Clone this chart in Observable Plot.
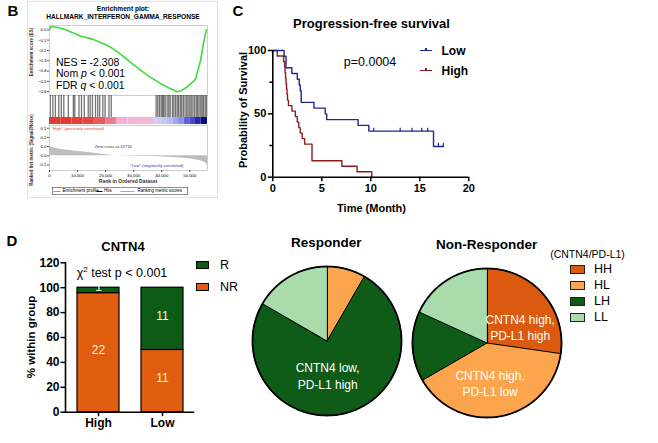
<!DOCTYPE html>
<html><head><meta charset="utf-8">
<script src="https://cdn.jsdelivr.net/npm/d3@7"></script>
<script src="https://cdn.jsdelivr.net/npm/@observablehq/plot@0.6"></script>
<style>
body{margin:0;background:#fff;}
#root{position:relative;width:658px;height:443px;overflow:hidden;font-family:"Liberation Sans",Arial,Helvetica,sans-serif;color:#000;background:#fff;}
.abs{position:absolute;white-space:nowrap;line-height:1;}
</style></head><body><div id="root"></div>
<script>
// ================= DATA =================
// Panel B : GSEA enrichment plot
const gseaTitle = ["Enrichment plot:", "HALLMARK_INTERFERON_GAMMA_RESPONSE"];
const nRanks = 56300;
const esRank  = [0, 600, 1500, 3300, 6200, 9300, 11000, 15200, 20500, 23000, 25500, 30000, 34800, 39500, 43000, 45500, 47000, 49000, 52000, 53800, 55000, 55900];
const esValue = [0, 0.03, 0.03, 0.02, -0.005, -0.04, -0.06, -0.09, -0.15, -0.19, -0.24, -0.34, -0.44, -0.52, -0.57, -0.60, -0.59, -0.555, -0.48, -0.30, -0.11, 0];
const hitRanks = [300, 1200, 2100, 3300, 4200, 5100, 6700, 8500, 9000, 10500, 11400, 12400, 13800, 14500, 15300, 16400, 17200, 17900, 19000, 19800, 21200, 22000,
  38000, 38600, 39200, 39800, 40300, 40700, 41200, 41900, 42500, 43000, 43800, 44300, 44900, 45500, 46000, 46600, 47100, 47700, 48300, 48900, 49400, 50000,
  50500, 51100, 51700, 52300, 52800, 53300, 53900, 54400, 54900, 55500, 56000];
const bandEdges = [0, 4000, 8000, 12000, 16000, 20000, 24000, 28000, 32000, 36000, 38000, 40000, 42000, 44000, 46000, 48000, 50000, 52000, 54000, 56300];
const bandLevel = [1, 1, 0.95, 0.9, 0.7, 0.5, 0.1, 0.05, 0.05, 0.0, -0.1, -0.15, -0.2, -0.3, -0.4, -0.6, -0.7, -0.85, -1];
const metricRank  = [0, 300, 1500, 4000, 8000, 12000, 16000, 20000, 22716, 30000, 37000, 41000, 45000, 49000, 52000, 54500, 55800, 56300];
const metricValue = [0.07, 0.05, 0.042, 0.035, 0.028, 0.021, 0.014, 0.006, 0, -0.002, -0.004, -0.007, -0.010, -0.015, -0.021, -0.03, -0.04, -0.055];
const zeroCross = 22716;
const esTicks = [0, -0.1, -0.2, -0.3, -0.4, -0.5, -0.6];
const metricTicks = [0.15, 0.10, 0.05, 0, -0.05];
const metricTickLabels = ["0.1", "0.1", "0.0", "0.0", "-0.1"];
const rankTicks = [0, 10000, 20000, 30000, 40000, 50000];
const gseaStats = ["NES = -2.308", "Nom <i>p</i> &lt; 0.001", "FDR <i>q</i> &lt; 0.001"];
const gseaLegend = ["Enrichment profile", "Hits", "Ranking metric scores"];

// Panel C : Kaplan-Meier progression-free survival
const lowTime  = [0, 1.15, 1.35, 1.95, 2.5, 2.7, 2.8, 2.9, 4.2, 5.35, 5.5, 8.7, 9.8, 16.4, 17.4];
const lowSurv  = [100, 95.45, 86.36, 81.82, 77.27, 72.73, 68.18, 59.09, 54.55, 50.0, 45.45, 40.91, 36.36, 24.24, 24.24];
const lowCensorTime = [10.3, 13.0, 14.2, 15.2, 15.8, 16.9, 17.4];
const lowCensorSurv = [36.36, 36.36, 36.36, 36.36, 36.36, 24.24, 24.24];
const highTime = [0, 0.45, 1.1, 1.2, 1.25, 1.3, 1.35, 1.4, 1.45, 1.5, 1.6, 1.95, 2.3, 2.5, 2.65, 2.8, 3.0, 3.25, 4.0, 7.05, 8.6, 10.1];
const highSurv = [100, 95.65, 91.30, 86.96, 82.61, 78.26, 73.91, 69.57, 65.22, 60.87, 56.52, 52.17, 47.83, 43.48, 39.13, 34.78, 30.43, 26.09, 13.04, 8.70, 4.35, 0];
const kmXTicks = [0, 5, 10, 15, 20];
const kmYTicks = [0, 50, 100];
const kmYMinor = [25, 75];
const kmSeries = ["Low", "High"];
const pValueText = "p=0.0004";

// Panel D : response bars and pies
const groups = ["High", "Low"];
const responses = ["NR", "R"];
const countNR = [22, 11];
const countR = [1, 11];
const barYTicks = [0, 20, 40, 60, 80, 100, 120];
const pieCats = ["HH", "HL", "LH", "LL"];
const responderCounts = [0, 1, 9, 2];
const nonResponderCounts = [9, 13, 5, 6];
const pieLabelText = {HH: "CNTN4 high,\nPD-L1 high", HL: "CNTN4 high,\nPD-L1 low", LH: "CNTN4 low,\nPD-L1 high"};
const responderLabeled = ["LH"];
const nonResponderLabeled = ["HH", "HL"];

// ================= STYLE =================
const FONT = '"Liberation Sans", Arial, Helvetica, sans-serif';
const GREEN_ES = "#3ddc3d";
const BLUE_KM = "#1c2a8c", RED_KM = "#8e1c1c";
const ORANGE = "#e05d10", DKGREEN = "#0d5b16";
const PIE_COLORS = ["#db5a0f", "#fca54c", "#0e5c18", "#a9dcaa"];

const root = document.getElementById("root");
function mount(svg, left, top) {
  svg.style.position = "absolute"; svg.style.left = left + "px"; svg.style.top = top + "px";
  svg.style.overflow = "visible"; svg.style.maxWidth = "none";
  root.appendChild(svg); return svg;
}
function txt(html, x, y, o = {}) {
  const d = document.createElement("div");
  d.className = "abs"; d.innerHTML = html;
  const anchor = o.anchor || "middle";
  const tx = anchor === "start" ? "0" : anchor === "end" ? "-100%" : "-50%";
  d.style.left = x + "px"; d.style.top = y + "px";
  d.style.fontSize = (o.size || 12) + "px";
  d.style.fontWeight = o.bold ? "bold" : "normal";
  d.style.color = o.color || "#000";
  d.style.transformOrigin = anchor === "start" ? "0 50%" : anchor === "end" ? "100% 50%" : "50% 50%";
  let t = `translate(${tx},-50%)`;
  if (o.rotate) t += ` rotate(${o.rotate}deg)`;
  if (o.scale) t += ` scale(${o.scale})`;
  d.style.transform = t;
  root.appendChild(d); return d;
}
function box(x, y, w, h, css) {
  const d = document.createElement("div");
  d.style.position = "absolute"; d.style.left = x + "px"; d.style.top = y + "px";
  d.style.width = w + "px"; d.style.height = h + "px"; d.style.boxSizing = "border-box";
  Object.assign(d.style, css); root.appendChild(d); return d;
}
const baseStyle = {fontFamily: FONT, background: "transparent", overflow: "visible"};

// ================= PANEL B =================
box(27, 1, 191, 197, {border: "1px solid #e2e2e2"});
txt("B", 13, 10, {size: 15, bold: true});
txt(gseaTitle[0], 123, 8.5, {size: 6.6, bold: true});
txt(gseaTitle[1], 123, 16.5, {size: 6.6, bold: true});

const xB = {domain: [0, nRanks]};
const bW = 220, bML = 49, bMR = 13;
const esData = esRank.map((r, i) => ({rank: r, es: esValue[i]}));
mount(Plot.plot({
  width: bW, height: 75, marginLeft: bML, marginRight: bMR, marginTop: 3, marginBottom: 2,
  style: baseStyle, x: {...xB, axis: null}, y: {domain: [-0.637, 0.042], axis: null},
  marks: [
    Plot.frame({stroke: "#b8b8b8", strokeWidth: 0.7}),
    Plot.axisY({ticks: esTicks, tickFormat: d3.format(".1f"), fontSize: 4.3, tickSize: 2, tickPadding: 1, label: null, stroke: "#555"}),
    Plot.line(esData, {x: "rank", y: "es", stroke: GREEN_ES, strokeWidth: 1.6})
  ]
}), 0, 22);

mount(Plot.plot({
  width: bW, height: 22, marginLeft: bML, marginRight: bMR, marginTop: 0, marginBottom: 0,
  style: baseStyle, x: {...xB, axis: null},
  marks: [
    Plot.tickX(hitRanks, {x: d => d, stroke: "#000", strokeOpacity: 0.55, strokeWidth: 1.3})
  ]
}), 0, 95);

const bandBins = bandLevel.map((v, i) => ({x1: bandEdges[i], x2: bandEdges[i + 1], level: v}));
mount(Plot.plot({
  width: bW, height: 7, marginLeft: bML, marginRight: bMR, marginTop: 0, marginBottom: 0,
  style: baseStyle, x: {...xB, axis: null},
  color: {type: "linear", domain: [-1, -0.75, -0.4, -0.1, 0.05, 0.4, 0.7, 1],
          range: ["#0c0c78", "#3a3ad0", "#8e8ee6", "#cfcdf2", "#f4b6d8", "#f08cae", "#ea5a5e", "#e43a36"], interpolate: "rgb"},
  marks: [Plot.rect(bandBins, {x1: "x1", x2: "x2", fill: "level"})]
}), 0, 117);

const metricData = metricRank.map((r, i) => ({rank: r, v: metricValue[i]}));
mount(Plot.plot({
  width: bW, height: 63, marginLeft: bML, marginRight: bMR, marginTop: 0, marginBottom: 18,
  style: baseStyle, x: {...xB, axis: null}, y: {domain: [-0.08, 0.165], axis: null},
  marks: [
    Plot.areaY(metricData, {x: "rank", y: "v", fill: "#bdbdbd"}),
    Plot.frame({stroke: "#b8b8b8", strokeWidth: 0.7}),
    Plot.axisY({ticks: metricTicks, tickFormat: (d, i) => metricTickLabels[i], fontSize: 4.3, tickSize: 2, tickPadding: 1, label: null, stroke: "#555"}),
    Plot.axisX({ticks: rankTicks, tickFormat: d3.format(","), fontSize: 4.3, tickSize: 2, tickPadding: 1, label: null, stroke: "#555"}),
    Plot.text([zeroCross], {x: d => d, text: d => "Zero cross at " + d, frameAnchor: "middle", dy: -1.5, fontSize: 4.2, fill: "#333"}),
    Plot.text(['"High" (positively correlated)'], {frameAnchor: "top-left", dx: 2, dy: 1.3, fontSize: 4.2, fill: "#e0403a"}),
    Plot.text(['"Low" (negatively correlated)'], {frameAnchor: "bottom-right", dx: -24, dy: -4, fontSize: 4.2, fill: "#3434c8"})
  ]
}), 0, 125);

txt("Rank in Ordered Dataset", 128, 181, {size: 10, bold: true, scale: 0.5, color: "#333"});
txt("Enrichment score (ES)", 31.5, 52, {size: 9, bold: true, rotate: -90, scale: 0.5, color: "#333"});
txt("Ranked list metric (Signal2Noise)", 31.5, 150, {size: 9, bold: true, rotate: -90, scale: 0.5, color: "#333"});
gseaStats.forEach((s, i) => txt(s, 56, 61.7 + i * 11.7, {size: 10.5, anchor: "start"}));

// GSEA legend (drawn at 2x, scaled by 0.5)
{
  const lg = box(52, 187, 272, 16, {border: "1px solid #222", transform: "scale(0.5)", transformOrigin: "0 0", fontSize: "9px", fontFamily: FONT});
  const items = [[2, 16, GREEN_ES, 20, gseaLegend[0]], [88, 100, "#000", 103, gseaLegend[1]], [136, 164, "#aaa", 170, gseaLegend[2]]];
  items.forEach(([a, b, c, tx, t]) => {
    const l = document.createElement("div");
    Object.assign(l.style, {position: "absolute", left: a + "px", width: (b - a) + "px", top: "7px", height: "2px", background: c});
    lg.appendChild(l);
    const s = document.createElement("div");
    Object.assign(s.style, {position: "absolute", left: tx + "px", top: "2px", whiteSpace: "nowrap", lineHeight: "1"});
    s.textContent = t; lg.appendChild(s);
  });
}

// ================= PANEL C =================
txt("C", 238, 9.5, {size: 15, bold: true});
txt("Progression-free survival", 371.5, 23, {size: 13, bold: true});
txt(pValueText, 370, 62, {size: 12.5});
txt("Probability of Survival", 243, 110, {size: 11, bold: true, rotate: -90});
txt("Time (Month)", 371.5, 207.7, {size: 11, bold: true});

const censorSymbol = {draw(ctx, size) { const h = Math.sqrt(size / Math.PI); ctx.moveTo(0, 0); ctx.lineTo(0, -h); }};
const lowData = lowTime.map((t, i) => ({t, s: lowSurv[i]}));
const highData = highTime.map((t, i) => ({t, s: highSurv[i]}));
const lowCensor = lowCensorTime.map((t, i) => ({t, s: lowCensorSurv[i]}));
mount(Plot.plot({
  width: 250, height: 190, marginLeft: 42.3, marginRight: 11.7, marginTop: 20, marginBottom: 43.3,
  style: baseStyle,
  x: {domain: [0, 20], axis: null}, y: {domain: [0, 100], axis: null},
  marks: [
    Plot.axisY({ticks: kmYTicks, tickSize: 4.5, tickPadding: 2, fontSize: 11, fontWeight: "bold", label: null, strokeWidth: 1.5}),
    Plot.axisY({ticks: kmYMinor, tickSize: 3, tickFormat: () => "", label: null, strokeWidth: 1.5}),
    Plot.axisX({ticks: kmXTicks, tickSize: 4.5, tickPadding: 2, fontSize: 11, fontWeight: "bold", label: null, strokeWidth: 1.5}),
    Plot.line(highData, {x: "t", y: "s", curve: "step-after", stroke: RED_KM, strokeWidth: 1.4}),
    Plot.line(lowData, {x: "t", y: "s", curve: "step-after", stroke: BLUE_KM, strokeWidth: 1.4}),
    Plot.dot(lowCensor, {x: "t", y: "s", symbol: censorSymbol, r: 3.5, stroke: BLUE_KM, strokeWidth: 1.2, fill: "none"}),
    Plot.ruleX([0], {strokeWidth: 1.6}),
    Plot.ruleY([0], {strokeWidth: 1.6})
  ]
}), 230, 30);

// KM legend
[[kmSeries[0], BLUE_KM, 50.7], [kmSeries[1], RED_KM, 70.5]].forEach(([name, c, y]) => {
  box(420, y - 0.75, 12, 1.5, {background: c});
  box(425.3, y - 3, 1.3, 3, {background: c});
  txt(name, 441.5, y, {size: 12, bold: true, anchor: "start"});
});

// ================= PANEL D : bars =================
txt("D", 12, 240, {size: 15, bold: true});
txt("CNTN4", 123, 245.7, {size: 13, bold: true});
txt("χ<sup style='font-size:8px;vertical-align:5px'>2</sup> test p &lt; 0.001", 122, 273, {size: 12.5});
txt("% within group", 31.5, 336.7, {size: 11.5, bold: true, rotate: -90});

const barRows = [];
groups.forEach((g, i) => {
  const tot = countNR[i] + countR[i];
  barRows.push({group: g, resp: "NR", count: countNR[i], pct: countNR[i] / tot * 100});
  barRows.push({group: g, resp: "R", count: countR[i], pct: countR[i] / tot * 100});
});
mount(Plot.plot({
  width: 200, height: 190, marginLeft: 65, marginRight: 5.8, marginTop: 12.3, marginBottom: 28.3,
  style: baseStyle,
  x: {domain: groups, paddingInner: 0.35, paddingOuter: 0.169, axis: null},
  y: {domain: [0, 120], axis: null},
  color: {domain: responses, range: [ORANGE, DKGREEN]},
  marks: [
    Plot.barY(barRows, {x: "group", y: "pct", fill: "resp", stroke: "#000", strokeWidth: 1.2}),
    Plot.text(barRows, Plot.stackY({x: "group", y: "pct", z: "resp", text: "count", fill: "#fff4dc", fontSize: 12, dy: -3})),
    Plot.axisY({ticks: barYTicks, tickSize: 4.5, tickPadding: 1.5, fontSize: 12, fontWeight: "bold", label: null, strokeWidth: 1.5}),
    Plot.axisX({tickSize: 4.5, tickPadding: 2, fontSize: 12, fontWeight: "bold", label: null, strokeWidth: 1.5}),
    Plot.frame({anchor: "left", strokeWidth: 1.6}),
    Plot.ruleY([0], {strokeWidth: 1.6})
  ]
}), 0, 250);

// bar legend
[["R", DKGREEN, 264.5], ["NR", ORANGE, 287]].forEach(([n, c, y]) => {
  box(195.5, y - 4, 13.5, 8, {background: c, border: "1.2px solid #000"});
  txt(n, 220, y, {size: 12.5, anchor: "start"});
});

// ================= PANEL D : pies =================
const circleRing = d3.range(0, 361, 2).map(a => [Math.sin(a * Math.PI / 180), Math.cos(a * Math.PI / 180)]);
const circleFeature = {type: "Feature", properties: {}, geometry: {type: "Polygon", coordinates: [circleRing]}};
function pieSlices(counts) {
  const total = d3.sum(counts); let a = 0;
  return pieCats.map((cat, i) => { const a0 = a; a += counts[i] / total * 360; return {cat, count: counts[i], a0, a1: a}; })
    .filter(d => d.count > 0);
}
function sliceFeature(s) {
  const pts = [[0, 0]];
  const n = Math.max(2, Math.ceil((s.a1 - s.a0) / 2));
  for (let k = 0; k <= n; k++) { const a = (s.a0 + (s.a1 - s.a0) * k / n) * Math.PI / 180; pts.push([Math.sin(a), Math.cos(a)]); }
  pts.push([0, 0]);
  return {type: "Feature", properties: {cat: s.cat}, geometry: {type: "Polygon", coordinates: [pts]}};
}
const labelNudge = {R_LH: [-9, -2], NR_HH: [5, 8], NR_HL: [-4, 3]};
function pie(counts, labeled, key, cx, cy, title) {
  const slices = pieSlices(counts);
  const feats = slices.map(sliceFeature);
  const labelMarks = slices.filter(s => labeled.includes(s.cat)).map(s => {
    const m = (s.a0 + s.a1) / 2 * Math.PI / 180, r = 0.5;
    const nd = labelNudge[key + "_" + s.cat] || [0, 0];
    return Plot.text([{x: Math.sin(m) * r, y: Math.cos(m) * r, label: pieLabelText[s.cat]}],
      {x: "x", y: "y", text: "label", fill: "#fff", fontSize: 12, lineHeight: 1.4, dx: nd[0], dy: nd[1]});
  });
  const size = 151;
  mount(Plot.plot({
    width: size, height: size, margin: 1, style: baseStyle,
    projection: {type: "reflect-y", domain: circleFeature},
    color: {domain: pieCats, range: PIE_COLORS},
    marks: [
      Plot.geo(feats, {fill: d => d.properties.cat, stroke: "#000", strokeWidth: 1, strokeLinejoin: "round"}),
      Plot.geo([circleFeature], {fill: "none", stroke: "#000", strokeWidth: 1.8}),
      ...labelMarks
    ]
  }), cx - size / 2, cy - size / 2);
  txt(title, cx, cy - 97.5, {size: 13.5, bold: true});
}
pie(responderCounts, responderLabeled, "R", 326.3, 340.8, "Responder");
pie(nonResponderCounts, nonResponderLabeled, "NR", 486.7, 342.5, "Non-Responder");

// pie legend
txt("(CNTN4/PD-L1)", 587.5, 254, {size: 10.5});
pieCats.forEach((c, i) => {
  const y = 269.3 + i * 16;
  box(570, y - 4.5, 15, 9, {background: PIE_COLORS[i], border: "1.2px solid #222"});
  txt(c, 594, y, {size: 12.5, anchor: "start"});
});
</script></body></html>
